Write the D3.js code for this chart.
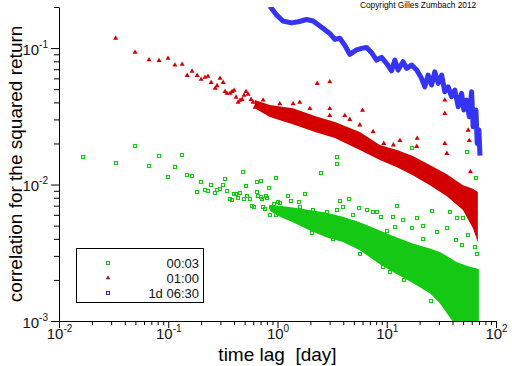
<!DOCTYPE html>
<html>
<head>
<meta charset="utf-8">
<script src="https://cdn.jsdelivr.net/npm/d3@7"></script>
<style>
body { margin: 0; background: #fff; }
svg text { font-family: "Liberation Sans", Arial, sans-serif; }
</style>
</head>
<body>
<div id="chartdiv"></div>
<script>
/*global d3 */

////////////////////////////////////////
// data
////////////////////////////////////////

var xDecades = [0.01, 0.1, 1, 10, 100],
    xDecadeExp = ["-2", "-1", "0", "1", "2"],
    yDecades = [0.001, 0.01, 0.1],
    yDecadeExp = ["-3", "-2", "-1"],
    legendLabels = ["00:03", "01:00", "1d 06:30"],

    // lag 1d 06:30 (drawn as a thick line of overlapping marks)
    blueLag = [0.88, 0.98, 1.12, 1.34, 1.55, 1.84, 2.12, 2.53, 3.01, 3.35,
               3.72, 4.13, 4.59, 5.29, 5.88, 6.53, 7.26, 8.07, 8.96, 9.96,
               11.07, 11.86, 12.7, 14.1, 15.2, 16.9, 18.8, 20.8, 22.3, 23.9,
               25.7, 27.5, 29.6, 31.8, 34.0, 36.5, 39.2, 42.0, 45.1, 48.4,
               50.8, 53.8, 56.9, 59.8, 61.8, 65.5, 67.3, 69.8, 71.2],
    blueCorr = [0.196, 0.175, 0.158, 0.153, 0.156, 0.162, 0.158, 0.142, 0.128,
                0.116, 0.118, 0.105, 0.090, 0.097, 0.0995, 0.101, 0.0925,
                0.0817, 0.0855, 0.0772, 0.0682, 0.0817, 0.069, 0.0794, 0.071,
                0.075, 0.069, 0.060, 0.052, 0.0634, 0.0536, 0.067, 0.0551,
                0.0634, 0.0479, 0.052, 0.044, 0.0492, 0.0372, 0.0466, 0.0352,
                0.0416, 0.0314, 0.0479, 0.0265, 0.0352, 0.020, 0.0251, 0.017],

    // lag 01:00, dense core as a band plus single points
    redBandLag = [0.62, 0.85, 1.38, 2.20, 3.35, 5.67, 8.65, 12.4, 17.3, 24.8,
                  35.5, 49.8, 61.4, 68.2],
    redBandHi = [0.0416, 0.0382, 0.0363, 0.0318, 0.0287, 0.0243, 0.0195,
                 0.0179, 0.0162, 0.0139, 0.0119, 0.0099, 0.0093, 0.0088],
    redBandLo = [0.0363, 0.0312, 0.0277, 0.0243, 0.0219, 0.0179, 0.0151,
                 0.0134, 0.0117, 0.0099, 0.0082, 0.0065, 0.0048, 0.0038],
    redPoints = [[0.033, 0.118], [0.0497, 0.093], [0.0667, 0.082],
                 [0.0824, 0.081], [0.0995, 0.084], [0.115, 0.075],
                 [0.134, 0.076], [0.149, 0.063], [0.165, 0.0675],
                 [0.184, 0.063], [0.200, 0.059], [0.217, 0.061],
                 [0.231, 0.062], [0.247, 0.056], [0.269, 0.0507],
                 [0.280, 0.053], [0.298, 0.060], [0.318, 0.056],
                 [0.331, 0.048], [0.345, 0.0466], [0.368, 0.0466],
                 [0.384, 0.048], [0.401, 0.049], [0.418, 0.0436],
                 [0.436, 0.040], [0.455, 0.0414], [0.474, 0.042],
                 [0.494, 0.045], [0.515, 0.048], [0.538, 0.0458],
                 [0.573, 0.042], [0.598, 0.040], [0.624, 0.0368],
                 [0.650, 0.0387], [0.679, 0.0368], [0.738, 0.0416],
                 [0.945, 0.035], [1.05, 0.039], [1.39, 0.039], [1.6, 0.040],
                 [1.98, 0.036], [2.31, 0.055], [3.01, 0.0566], [3.01, 0.036],
                 [3.01, 0.032], [4.13, 0.032], [4.59, 0.030], [5.67, 0.0273],
                 [6.0, 0.035], [7.5, 0.0244], [9.4, 0.020], [11.5, 0.0195],
                 [13.2, 0.021], [18.8, 0.019], [19.0, 0.0218], [34.0, 0.0416],
                 [34.0, 0.0332], [34.0, 0.020], [35.5, 0.0169], [55.6, 0.025],
                 [56.9, 0.021], [58.4, 0.0124]],

    // lag 00:03
    greenBandLag = [0.85, 1.05, 1.38, 1.98, 2.83, 3.96, 5.67, 8.65, 12.4,
                    17.3, 24.8, 30.6, 35.5, 43.9, 57.7, 69.7],
    greenBandHi = [0.0070, 0.0070, 0.0068, 0.0065, 0.0062, 0.0058, 0.0053,
                   0.0046, 0.0041, 0.0037, 0.0034, 0.0032, 0.0030, 0.0027,
                   0.0025, 0.0024],
    greenBandLo = [0.0064, 0.0058, 0.0053, 0.0046, 0.0041, 0.0038, 0.0033,
                   0.0026, 0.0022, 0.0019, 0.0016, 0.00135, 0.00114, 0.0009,
                   0.0009, 0.0009],
    greenPoints = [[0.0166, 0.0158], [0.0330, 0.0143], [0.0497, 0.0191],
                   [0.0667, 0.0136], [0.0824, 0.0161], [0.0995, 0.0113],
                   [0.115, 0.0134], [0.134, 0.0164], [0.149, 0.0117],
                   [0.165, 0.0115], [0.184, 0.0088], [0.200, 0.0104],
                   [0.217, 0.0091], [0.231, 0.0089], [0.247, 0.0100],
                   [0.269, 0.0086], [0.280, 0.0091], [0.298, 0.0092],
                   [0.318, 0.0099], [0.331, 0.0109], [0.345, 0.0089],
                   [0.368, 0.0079], [0.384, 0.0077], [0.401, 0.0085],
                   [0.418, 0.0085], [0.436, 0.0080], [0.455, 0.0086],
                   [0.484, 0.0123], [0.494, 0.0078], [0.515, 0.0097],
                   [0.527, 0.0082], [0.561, 0.0079], [0.585, 0.0070],
                   [0.611, 0.0069], [0.650, 0.0104], [0.650, 0.0088],
                   [0.664, 0.0083], [0.70, 0.0081], [0.708, 0.0106],
                   [0.723, 0.0079], [0.738, 0.0068], [0.769, 0.0066],
                   [0.787, 0.0083], [0.803, 0.0080], [0.838, 0.0095],
                   [0.855, 0.0060], [0.873, 0.0068], [0.912, 0.0066],
                   [0.931, 0.0072], [0.959, 0.0060], [0.971, 0.0111],
                   [1.01, 0.0075], [1.05, 0.0073], [1.25, 0.0083],
                   [1.32, 0.0076], [1.58, 0.0075], [1.6, 0.0069],
                   [1.79, 0.0085], [2.12, 0.0065], [2.51, 0.0121],
                   [2.81, 0.0063], [3.47, 0.0141], [3.47, 0.0065],
                   [3.54, 0.0160], [3.72, 0.0076], [3.99, 0.0068],
                   [4.53, 0.0078], [4.92, 0.0060], [5.59, 0.0067],
                   [6.62, 0.0065], [7.41, 0.0063], [8.07, 0.0063],
                   [8.83, 0.0058], [9.96, 0.0046], [11.5, 0.0058],
                   [11.9, 0.0049], [12.4, 0.0070], [14.0, 0.0055],
                   [17.1, 0.0185], [17.2, 0.0048], [19.0, 0.0057],
                   [21.3, 0.0050], [21.5, 0.0040], [25.7, 0.0064],
                   [28.6, 0.0045], [35.7, 0.0048], [37.8, 0.0063],
                   [42.9, 0.0039], [44.2, 0.0057], [48.4, 0.0036],
                   [50.1, 0.0057], [54.5, 0.0172], [55.6, 0.0043],
                   [64.1, 0.0035], [65.5, 0.0111], [67.3, 0.0031],
                   [2.05, 0.0044], [3.23, 0.0040], [5.67, 0.0031],
                   [9.27, 0.0025], [10.8, 0.0023], [14.4, 0.0020],
                   [20.1, 0.0019], [25.2, 0.0014]];


var app = (function () {
    "use strict";

    ////////////////////////////////////////
    // closure variables
    ////////////////////////////////////////

    var lay = {w: 512, h: 366, left: 59, right: 496, top: 7, bottom: 321,
               green: "#14c814", red: "#d20000", blue: "#3434f2"},
        svg, xs, ys,


    ////////////////////////////////////////
    // helper functions
    ////////////////////////////////////////

    isDecade = function (v) {
        var lg = Math.log10(v);
        return Math.abs(lg - Math.round(lg)) < 1e-9;
    },


    powerLabel = function (txt, exp) {
        txt.append("tspan").text("10");
        txt.append("tspan").attr("dy", -7).attr("font-size", "10px")
            .text(exp);
    },


    drawAxes = function () {
        var gx, gy;
        gx = svg.append("g")
            .attr("transform", "translate(0," + lay.bottom + ")")
            .call(d3.axisBottom(xs).tickValues(xs.ticks())
                  .tickFormat(function () { return ""; }).tickSizeOuter(0));
        gx.selectAll(".tick line")
            .attr("y2", function (d) { return isDecade(d) ? 7 : 4; });
        gx.selectAll(".tick").filter(isDecade).append("text")
            .attr("y", 18).attr("text-anchor", "middle")
            .attr("fill", "#111").attr("font-size", "15px")
            .each(function (d) {
                powerLabel(d3.select(this), xDecadeExp[xDecades.indexOf(d)]); });
        gy = svg.append("g")
            .attr("transform", "translate(" + lay.left + ",0)")
            .call(d3.axisLeft(ys).tickValues(ys.ticks())
                  .tickFormat(function () { return ""; }).tickSizeOuter(0));
        gy.selectAll(".tick line")
            .attr("x2", function (d) { return isDecade(d) ? -8 : -5; });
        gy.selectAll(".tick").filter(isDecade).append("text")
            .attr("x", -11).attr("y", 6).attr("text-anchor", "end")
            .attr("fill", "#111").attr("font-size", "15px")
            .each(function (d) {
                powerLabel(d3.select(this), yDecadeExp[yDecades.indexOf(d)]); });
        svg.selectAll(".domain, .tick line").attr("stroke", "#000");
    },


    drawBand = function (plot, lags, lo, hi, color) {
        var area = d3.area()
            .x(function (d) { return xs(d[0]); })
            .y0(function (d) { return ys(d[1]); })
            .y1(function (d) { return ys(d[2]); });
        plot.append("path").datum(d3.zip(lags, lo, hi))
            .attr("d", area).attr("fill", color);
    },


    drawSeries = function () {
        var plot, line;
        svg.append("clipPath").attr("id", "plotclip").append("rect")
            .attr("x", lay.left).attr("y", lay.top)
            .attr("width", lay.right - lay.left)
            .attr("height", lay.bottom - lay.top);
        plot = svg.append("g").attr("clip-path", "url(#plotclip)");
        line = d3.line()
            .x(function (d) { return xs(d[0]); })
            .y(function (d) { return ys(d[1]); });
        plot.append("path").datum(d3.zip(blueLag, blueCorr))
            .attr("d", line).attr("fill", "none").attr("stroke", lay.blue)
            .attr("stroke-width", 5).attr("stroke-linejoin", "round")
            .attr("stroke-linecap", "square");
        drawBand(plot, redBandLag, redBandLo, redBandHi, lay.red);
        plot.selectAll("path.red").data(redPoints).enter().append("path")
            .attr("class", "red")
            .attr("d", d3.symbol(d3.symbolTriangle, 11))
            .attr("transform", function (d) {
                return "translate(" + xs(d[0]) + "," + ys(d[1]) + ")"; })
            .attr("fill", lay.red);
        drawBand(plot, greenBandLag, greenBandLo, greenBandHi, lay.green);
        plot.selectAll("rect.green").data(greenPoints).enter().append("rect")
            .attr("class", "green")
            .attr("x", function (d) { return Math.round(xs(d[0])) - 1.5; })
            .attr("y", function (d) { return Math.round(ys(d[1])) - 1.5; })
            .attr("width", 3).attr("height", 3)
            .attr("fill", "none").attr("stroke", lay.green)
            .attr("stroke-width", 1.1);
    },


    drawLegend = function () {
        var lg = svg.append("g"), rows = [263, 278, 293];
        lg.append("rect").attr("x", 76.5).attr("y", 248.5)
            .attr("width", 127).attr("height", 54)
            .attr("fill", "#fff").attr("stroke", "#000");
        lg.append("rect").attr("x", 106.5).attr("y", rows[0] - 1.5)
            .attr("width", 3).attr("height", 3).attr("fill", "none")
            .attr("stroke", "#2aa82a");
        lg.append("path").attr("d", d3.symbol(d3.symbolTriangle, 9))
            .attr("transform", "translate(108," + rows[1] + ")")
            .attr("fill", "#a01818");
        lg.append("rect").attr("x", 106.5).attr("y", rows[2] - 1.5)
            .attr("width", 3).attr("height", 3).attr("fill", "none")
            .attr("stroke", "#2828a0");
        lg.selectAll("text").data(legendLabels).enter().append("text")
            .attr("x", 199)
            .attr("y", function (d, i) { return rows[i] + 5; })
            .attr("text-anchor", "end").attr("font-size", "13px")
            .attr("fill", "#111").text(function (d) { return d; });
    },


    drawTitles = function () {
        svg.append("text").attr("x", 277.5).attr("y", 361)
            .attr("text-anchor", "middle").attr("font-size", "19px")
            .style("white-space", "pre").attr("fill", "#000")
            .text("time lag  [day]");
        svg.append("text")
            .attr("transform", "translate(22,164) rotate(-90)")
            .attr("text-anchor", "middle").attr("font-size", "19px")
            .attr("fill", "#000")
            .text("correlation for the squared return");
        svg.append("text").attr("x", 360).attr("y", 8)
            .attr("font-size", "8.3px").attr("fill", "#000")
            .text("Copyright Gilles Zumbach 2012");
    };


    ////////////////////////////////////////
    // published functions
    ////////////////////////////////////////
return {

    run: function () {
        svg = d3.select("#chartdiv").append("svg")
            .attr("width", lay.w).attr("height", lay.h);
        svg.append("rect").attr("width", lay.w).attr("height", lay.h)
            .attr("fill", "#fff");
        xs = d3.scaleLog().domain([0.01, 100])
            .range([lay.left, lay.right]);
        ys = d3.scaleLog().domain([0.001, 0.2])
            .range([lay.bottom, lay.top]);
        drawSeries();
        drawAxes();
        drawLegend();
        drawTitles();
    }

};  //end of returned functions
}());

app.run();
</script>
</body>
</html>
